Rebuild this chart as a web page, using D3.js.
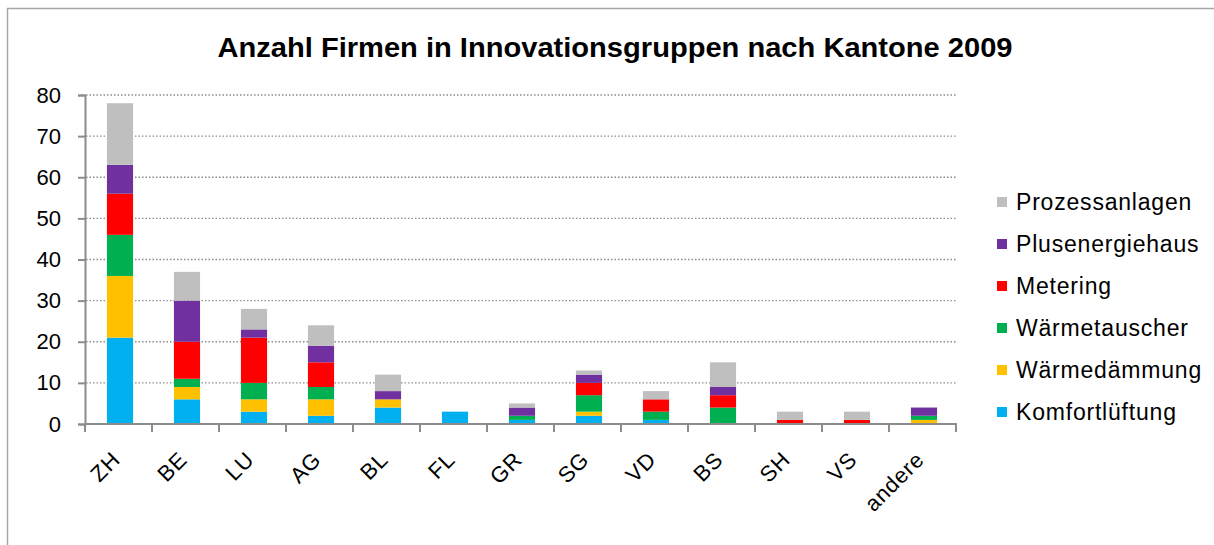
<!DOCTYPE html>
<html><head><meta charset="utf-8">
<script src="https://cdn.jsdelivr.net/npm/d3@7"></script>
<style>html,body{margin:0;padding:0;background:#fff;}svg{display:block;}</style>
</head><body>
<svg id="c" width="1214" height="545"></svg>
<script>
const categories = ["ZH","BE","LU","AG","BL","FL","GR","SG","VD","BS","SH","VS","andere"];
const seriesNames = ["Komfortlüftung","Wärmedämmung","Wärmetauscher","Metering","Plusenergiehaus","Prozessanlagen"];
const seriesColors = ["#00B0F0","#FFC000","#00B050","#FF0000","#7030A0","#BFBFBF"];
const komfortlueftung = [21,6,3,2,4,3,1,2,1,0,0,0,0];
const waermedaemmung  = [15,3,3,4,2,0,0,1,0,0,0,0,1];
const waermetauscher  = [10,2,4,3,0,0,1,4,2,4,0,0,1];
const metering        = [10,9,11,6,0,0,0,3,3,3,1,1,0];
const plusenergiehaus = [7,10,2,4,2,0,2,2,0,2,0,0,2];
const prozessanlagen  = [15,7,5,5,4,0,1,1,2,6,2,2,0];
const yTicks = [0,10,20,30,40,50,60,70,80];
const title = "Anzahl Firmen in Innovationsgruppen nach Kantone 2009";

const seriesValues = [komfortlueftung,waermedaemmung,waermetauscher,metering,plusenergiehaus,prozessanlagen];
const rows = categories.map((c,i)=>{const o={cat:c}; seriesNames.forEach((s,j)=>o[s]=seriesValues[j][i]); return o;});
const stack = d3.stack().keys(seriesNames)(rows);

const svg = d3.select("#c");
const font = "Liberation Sans, Arial, sans-serif";
// frame
svg.append("path").attr("d","M7.5,545 L7.5,8.5 L1214,8.5").attr("fill","none").attr("stroke","#a6a6a6").attr("stroke-width",1.5);

const x = d3.scaleBand().domain(categories).range([85,956]).paddingInner(0).paddingOuter(0);
const y = d3.scaleLinear().domain([0,80]).range([424,95]);

// gridlines
svg.append("g").selectAll("line").data(yTicks.filter(t=>t>0)).join("line")
  .attr("x1",86).attr("x2",956).attr("y1",d=>y(d)).attr("y2",d=>y(d))
  .attr("stroke","#8c8c8c").attr("stroke-width",1.3).attr("stroke-dasharray","1.5,2");

// bars
const bw = x.bandwidth()*0.39;
svg.append("g").selectAll("g").data(stack).join("g")
  .attr("fill",(d,i)=>seriesColors[i])
  .selectAll("rect").data(d=>d).join("rect")
  .attr("x",d=>x(d.data.cat)+x.bandwidth()/2-bw/2+1.5)
  .attr("width",bw)
  .attr("y",d=>y(d[1]))
  .attr("height",d=>y(d[0])-y(d[1]));

// y axis
const ya = svg.append("g").attr("transform","translate(85,0)")
  .call(d3.axisLeft(y).tickValues(yTicks).tickSize(7).tickPadding(17));
ya.select(".domain").attr("stroke","#8c8c8c").attr("stroke-width",2);
ya.selectAll(".tick line").attr("stroke","#8c8c8c").attr("stroke-width",2);
ya.selectAll("text").attr("font-family",font).attr("font-size",22).attr("fill","#000");

// x axis
const xa = svg.append("g").attr("transform","translate(0,424)");
xa.append("line").attr("x1",85).attr("x2",957).attr("y1",0).attr("y2",0).attr("stroke","#8c8c8c").attr("stroke-width",2);
xa.selectAll("line.tk").data(categories.concat(["__end"])).join("line").attr("class","tk")
  .attr("x1",(d,i)=>i<categories.length?x(d):x.range()[1]).attr("x2",(d,i)=>i<categories.length?x(d):x.range()[1])
  .attr("y1",0).attr("y2",8).attr("stroke","#8c8c8c").attr("stroke-width",2);
xa.selectAll("text").data(categories).join("text")
  .attr("transform",d=>`translate(${x(d)+x.bandwidth()/2+3},${37}) rotate(-45)`)
  .attr("text-anchor","end").attr("font-family",font).attr("font-size",22).attr("letter-spacing",0.8).attr("fill","#000")
  .text(d=>d);

// title
svg.append("text").attr("x",615).attr("y",57).attr("text-anchor","middle")
  .attr("font-family",font).attr("font-weight","bold").attr("font-size",27)
  .attr("textLength",795).attr("lengthAdjust","spacingAndGlyphs").attr("fill","#000").text(title);

// legend
const lg = svg.append("g");
const order = seriesNames.map((s,i)=>i).reverse();
order.forEach((si,k)=>{
  const cy = 202 + k*42;
  lg.append("rect").attr("x",997).attr("y",cy-5).attr("width",10).attr("height",10).attr("fill",seriesColors[si]);
  lg.append("text").attr("x",1016).attr("y",cy+8).attr("font-family",font).attr("font-size",23).attr("letter-spacing",0.8).attr("fill","#000").text(seriesNames[si]);
});
</script>
</body></html>
